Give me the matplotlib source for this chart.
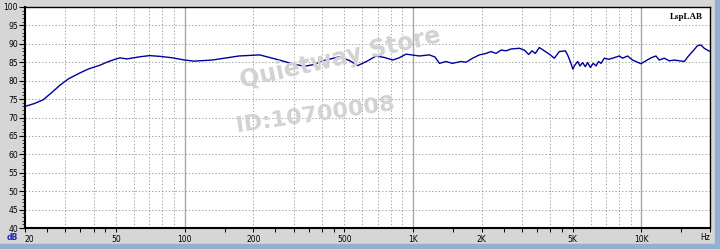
import numpy as np
import matplotlib
matplotlib.use("Agg")
import matplotlib.pyplot as plt
from matplotlib.patches import Rectangle

# frequency response (Hz, dB SPL)
freq = [20, 22, 24, 26, 28.5, 31, 34.8, 38, 42.6, 46, 49.6, 52.1, 55.9, 63.9,
        70.3, 77.9, 88.6, 100, 110, 132, 157, 173, 213, 260, 300, 335, 370,
        403, 477, 530, 573, 630, 690, 750, 815, 870, 934, 1068, 1180, 1250,
        1306, 1397, 1488, 1625, 1708, 1826, 1954,
        2090, 2198, 2312, 2432, 2558, 2690, 2924, 3076, 3212, 3324, 3436,
        3578, 3762, 3956, 4162, 4376, 4648, 4758, 4888, 5020, 5090, 5262,
        5390, 5534, 5686, 5820, 5980, 6164, 6334, 6502, 6662, 6888, 7192,
        7488, 8012, 8284, 8712, 9162, 9634, 9970, 10486, 11028, 11596,
        11990, 12608, 13258, 13942, 14664, 15422, 16104, 16766, 17632,
        18246, 18862, 20000]
spl = [73.0, 73.8, 74.8, 76.6, 78.8, 80.5, 82.1, 83.2, 84.2, 85.1, 85.8, 86.2,
       85.9, 86.5, 86.8, 86.6, 86.2, 85.6, 85.3, 85.6, 86.3, 86.7, 87.0, 85.6,
       84.5, 83.9, 84.4, 85.4, 86.5, 85.4, 84.1, 85.3, 86.7, 86.3, 85.6, 86.2,
       87.2, 86.7, 87.0, 86.4, 84.7, 85.2, 84.7, 85.2, 85.0, 86.1, 87.0,
       87.4, 87.9, 87.4, 88.3, 88.1, 88.6, 88.8, 88.3, 87.1, 88.1, 87.4,
       89.0, 88.1, 87.2, 86.1, 87.9, 88.1, 87.0, 85.2, 83.1, 84.0, 85.2,
       84.0, 84.9, 83.8, 84.9, 83.6, 84.7, 84.0, 85.2, 84.7, 86.1, 85.8,
       86.1, 86.7, 86.1, 86.7, 85.6, 85.0, 84.6, 85.4, 86.2, 86.7,
       85.6, 86.1, 85.4, 85.6, 85.4, 85.2, 86.7, 87.9, 89.5,
       89.7, 88.8, 87.9]

y_ticks = list(range(40, 101, 5))
x_labels = {20: "20", 50: "50", 100: "100", 200: "200", 500: "500",
            1000: "1K", 2000: "2K", 5000: "5K", 10000: "10K"}
x_minor = [25, 30, 35, 40, 45, 150, 250, 300, 350, 400, 450,
           1500, 2500, 3000, 3500, 4000, 4500, 15000, 20000]
grid_dashed = [30, 40, 50, 60, 70, 80, 90, 200, 300, 400, 500, 600, 700,
               800, 900, 2000, 3000, 4000, 5000, 6000, 7000, 8000, 9000]
grid_solid = [100, 1000, 10000]

fig = plt.figure(figsize=(7.2, 2.49), dpi=100)
fig.patch.set_facecolor("#d6d6d6")
# window chrome: blue strips at bottom and right
fig.add_artist(Rectangle((0, 0), 1, 5 / 249, transform=fig.transFigure,
                         color="#94afcf", zorder=0))
fig.add_artist(Rectangle((715 / 720, 0), 5 / 720, 1, transform=fig.transFigure,
                         color="#94afcf", zorder=0))

ax = fig.add_axes([25 / 720, 1 - 228 / 249, 685 / 720, 221 / 249])
ax.set_facecolor("white")
ax.set_xscale("log")
ax.set_xlim(20, 20000)
ax.set_ylim(40, 100)

for f in grid_dashed:
    ax.axvline(f, color="#8c8c8c", lw=0.6, ls=(0, (1.5, 2.5)), zorder=1)
for f in grid_solid:
    ax.axvline(f, color="#a8a8a8", lw=1.0, zorder=1)
for v in y_ticks[1:-1]:
    ax.axhline(v, color="#8c8c8c", lw=0.6, ls=(0, (1.5, 2.5)), zorder=1)

ax.plot(freq, spl, color="#00009c", lw=1.0, zorder=3)

# watermark
fig.text(340 / 720, 1 - 58 / 249, "Quietway Store", color="#d2d2d2",
         fontsize=17, fontweight="bold", rotation=13, ha="center", va="center",
         zorder=2)
fig.text(315 / 720, 1 - 115 / 249, "ID:10700008", color="#d2d2d2",
         fontsize=16, fontweight="bold", rotation=8, ha="center", va="center",
         zorder=2)

ax.set_yticks(y_ticks)
ax.set_yticklabels([str(v) for v in y_ticks])
ax.set_yticks(range(40, 101), minor=True)
ax.tick_params(axis="y", which="major", length=4, width=0.8, labelsize=5.5,
               pad=1, colors="black")
ax.tick_params(axis="y", which="minor", length=2, width=0.5)

ax.set_xticks(list(x_labels.keys()))
ax.set_xticklabels(list(x_labels.values()))
ax.set_xticks(x_minor, minor=True)
ax.xaxis.set_minor_formatter(plt.NullFormatter())
ax.tick_params(axis="x", which="both", length=3, width=0.7, labelsize=5.5,
               pad=2)
ax.get_xticklabels()[0].set_horizontalalignment("left")

for s in ax.spines.values():
    s.set_color("black")
    s.set_linewidth(1.0)
ax.spines["left"].set_linewidth(1.5)
ax.spines["bottom"].set_linewidth(1.5)

fig.text(12 / 720, 1 - 237 / 249, "dB", color="#2020c0", fontsize=5.5,
         fontweight="bold", ha="center", va="center")
fig.text(705 / 720, 1 - 237 / 249, "Hz", color="black", fontsize=5.5,
         ha="center", va="center")
ax.text(0.99, 0.955, "LspLAB", transform=ax.transAxes, ha="right", va="center",
        family="Liberation Serif", fontweight="bold", fontsize=6.5)

fig.savefig("out.png", dpi=100, facecolor=fig.get_facecolor())
